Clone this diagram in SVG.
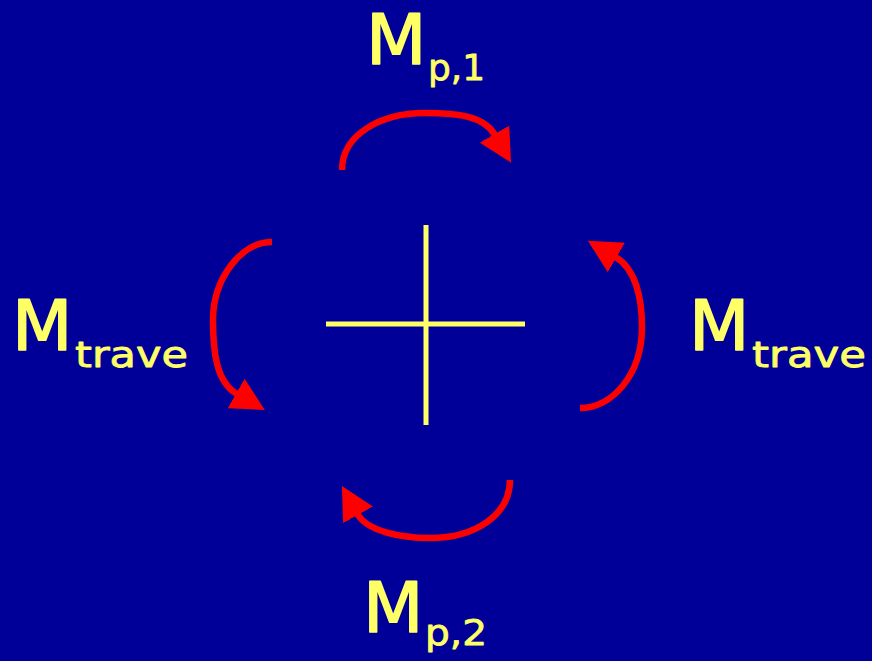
<svg xmlns="http://www.w3.org/2000/svg" width="872" height="661" viewBox="0 0 872 661">
<style>
.lbl{font-family:"DejaVu Sans","Liberation Sans",sans-serif;fill:#FFFF66;stroke:#FFFF66;stroke-width:1.6;stroke-linejoin:round}
.big{font-size:70px}
.sub{font-size:36px;stroke-width:0.8}
.arc{fill:none;stroke:#FF0000;stroke-width:6.5}
.axis{stroke:#FFFF66;stroke-width:5}
</style>
<defs>
<marker id="ah" viewBox="0 0 33 34" refX="1" refY="17" markerWidth="33" markerHeight="34" markerUnits="userSpaceOnUse" orient="auto">
<path d="M0,0 L33,17 L0,34 z" fill="#FF0000"/>
</marker>
</defs>
<rect x="0" y="0" width="872" height="661" fill="#000099"/>
<g id="cross">
<line class="axis" x1="426" y1="225" x2="426" y2="425"/>
<line class="axis" x1="326" y1="324" x2="525" y2="324"/>
</g>
<g id="connectors">
<path class="arc" marker-end="url(#ah)" d="M342,170 C342,135 380,113 425,113 C458,113 484,116 495,135"/>
<path class="arc" marker-end="url(#ah)" d="M272,242 C240,242 213,280 213,320 C213,351 216,382 237,394"/>
<path class="arc" marker-end="url(#ah)" d="M580,408 C612,408 642,375 642,327 C642,299 636,269 615.5,257"/>
<path class="arc" marker-end="url(#ah)" d="M510,480 C510,515 475,538 430,538 C400,538 367,531 357.5,514"/>
</g>
<g id="label-top">
<text class="lbl big" x="366" y="64">M</text>
<text class="lbl sub" x="428" y="80" textLength="57" lengthAdjust="spacingAndGlyphs">p,1</text>
</g>
<g id="label-left">
<text class="lbl big" x="12" y="350">M</text>
<text class="lbl sub" x="75" y="367" textLength="113" lengthAdjust="spacingAndGlyphs">trave</text>
</g>
<g id="label-right">
<text class="lbl big" x="689" y="350">M</text>
<text class="lbl sub" x="752" y="367" textLength="114" lengthAdjust="spacingAndGlyphs">trave</text>
</g>
<g id="label-bottom">
<text class="lbl big" x="363" y="632">M</text>
<text class="lbl sub" x="425" y="645" textLength="62" lengthAdjust="spacingAndGlyphs">p,2</text>
</g>
</svg>
